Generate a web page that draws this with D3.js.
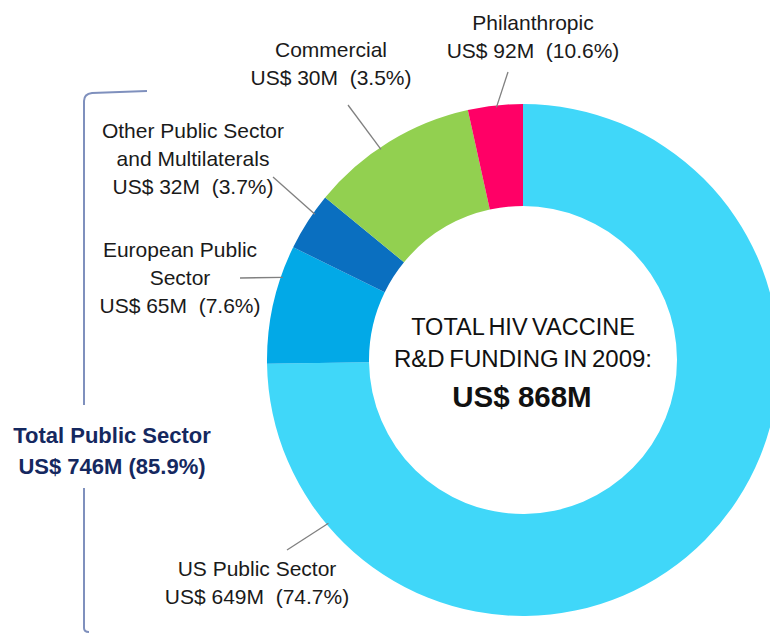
<!DOCTYPE html>
<html>
<head>
<meta charset="utf-8">
<title>HIV vaccine R&amp;D funding 2009</title>
<script src="https://d3js.org/d3.v7.min.js"></script>
<style>
  body { margin: 0; background: #fff; }
  svg { display: block; font-family: "Liberation Sans", Arial, sans-serif; }
</style>
</head>
<body>
<script>
// slices, clockwise from 12 o'clock (as drawn in the picture)
let sliceNames = ["US Public Sector", "European Public Sector", "Other Public Sector and Multilaterals", "Commercial", "Philanthropic"]
let sliceValues = [649, 65, 32, 92, 30]
let sliceColors = ["#40d7f9", "#02a9e7", "#0a6fc0", "#92d050", "#ff0066"]

// label texts as printed in the picture
let labelLines = [
  ["US Public Sector", "US$ 649M  (74.7%)"],
  ["European Public", "Sector", "US$ 65M  (7.6%)"],
  ["Other Public Sector", "and Multilaterals", "US$ 32M  (3.7%)"],
  ["Commercial", "US$ 30M  (3.5%)"],
  ["Philanthropic", "US$ 92M  (10.6%)"]
]
let centerLines = ["TOTAL HIV VACCINE", "R&D FUNDING IN 2009:", "US$ 868M"]
let totalLines = ["Total Public Sector", "US$ 746M (85.9%)"]

let w = 770
let h = 633
let cx = 523, cy = 360
let rOuter = 256, rInner = 154

// label layout: text centre x, first baseline y, leader angle (deg), leader end
let labelLayout = [
  {x: 257, y: 576, angle: 230, lx: 287, ly: 550},
  {x: 180, y: 257, angle: 289, lx: 240, ly: 278},
  {x: 193, y: 138, angle: 305, lx: 273, ly: 177},
  {x: 331, y: 57, angle: 326, lx: 348, ly: 105},
  {x: 533, y: 30, angle: 354, lx: 508, ly: 72}
]

let svg = d3.select("body").append("svg")
  .attr("width", w)
  .attr("height", h)

let pie = d3.pie().sort(null).value(d => d)
let arcs = pie(sliceValues)
let arc = d3.arc().innerRadius(rInner).outerRadius(rOuter)

let g = svg.append("g").attr("transform", `translate(${cx},${cy})`)

g.selectAll("path")
  .data(arcs)
  .enter()
  .append("path")
  .attr("d", arc)
  .attr("fill", (d, i) => sliceColors[i])

// leader lines
labelLayout.forEach((l, i) => {
  let a = l.angle * Math.PI / 180
  let r = rOuter - 2
  svg.append("line")
    .attr("x1", l.lx).attr("y1", l.ly)
    .attr("x2", cx + r * Math.sin(a)).attr("y2", cy - r * Math.cos(a))
    .attr("stroke", "#808080")
    .attr("stroke-width", 1.3)
})

// slice labels
labelLayout.forEach((l, i) => {
  let t = svg.append("text")
    .attr("text-anchor", "middle")
    .attr("font-size", 21)
    .attr("fill", "#1a1a1a")
  labelLines[i].forEach((s, j) => {
    t.append("tspan")
      .attr("x", l.x)
      .attr("y", l.y + j * 28)
      .attr("xml:space", "preserve")
      .text(s)
  })
})

// centre text
let ct = svg.append("text").attr("text-anchor", "middle").attr("fill", "#111")
ct.append("tspan").attr("x", cx).attr("y", 335).attr("font-size", 23.5).attr("word-spacing", -2).text(centerLines[0])
ct.append("tspan").attr("x", cx).attr("y", 367).attr("font-size", 24).attr("word-spacing", -2).text(centerLines[1])
ct.append("tspan").attr("x", cx - 1).attr("y", 407).attr("font-size", 29.5).attr("font-weight", "bold").text(centerLines[2])

// public sector bracket
let bracketColor = "#7f90bd"
svg.append("path")
  .attr("d", "M147,91 L92,93 Q84,94 84,101 L84,405")
  .attr("fill", "none")
  .attr("stroke", bracketColor)
  .attr("stroke-width", 2)
svg.append("path")
  .attr("d", "M84,488 L84,628 Q84,632 89,632")
  .attr("fill", "none")
  .attr("stroke", bracketColor)
  .attr("stroke-width", 2)

let tt = svg.append("text")
  .attr("text-anchor", "middle")
  .attr("font-size", 22)
  .attr("font-weight", "bold")
  .attr("fill", "#15285f")
totalLines.forEach((s, j) => {
  tt.append("tspan").attr("x", 112).attr("y", 443 + j * 31).text(s)
})
</script>
</body>
</html>
